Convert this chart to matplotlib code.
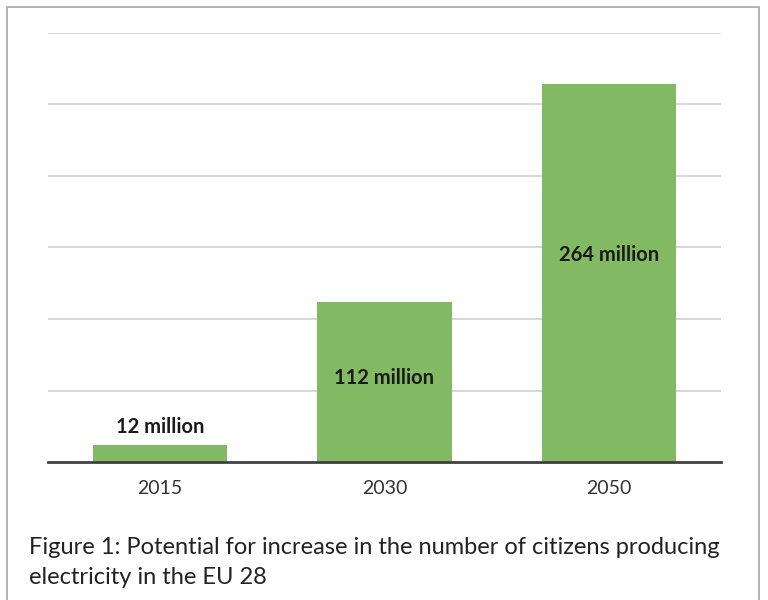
import matplotlib.pyplot as plt
from matplotlib.patches import Rectangle

plt.rcParams['font.family'] = ['Lato', 'DejaVu Sans']

years = ['2015', '2030', '2050']
citizens = [12, 112, 264]  # million
labels = ['12 million', '112 million', '264 million']
label_y = [24.5, 58.5, 145]  # where Excel put the data labels
grid_ticks = [50, 100, 150, 200, 250, 300]

fig = plt.figure(figsize=(7.68, 6.0), dpi=100)
fig.patches.append(Rectangle((7 / 768, -0.01), 752 / 768, 0.9983, transform=fig.transFigure,
                             fill=False, edgecolor='#a6a6a6', linewidth=1.2))

ax = fig.add_axes([48 / 768, (600 - 462) / 600, 673 / 768, 429 / 600])
x = range(len(years))
ax.bar(x, citizens, width=0.6, color='#82b963', zorder=2)

for xi, lab, ly in zip(x, labels, label_y):
    ax.text(xi, ly, lab, ha='center', va='center', fontsize=14.5, fontweight='bold', color='#1a1a1a', zorder=3)

ax.set_xlim(-0.5, 2.5)
ax.set_ylim(0, 300)
ax.set_yticks(grid_ticks)
ax.yaxis.grid(True, color='#d4d4d4', linewidth=1.3, zorder=0)
ax.tick_params(axis='y', left=False, labelleft=False)
ax.set_xticks(list(x))
ax.set_xticklabels(years, fontsize=14, color='#333333')
ax.tick_params(axis='x', length=0, pad=13)
for side in ['top', 'left', 'right']:
    ax.spines[side].set_visible(False)
ax.spines['bottom'].set_color('#404040')
ax.spines['bottom'].set_linewidth(2)

fig.text(29 / 768, 1 - 548 / 600, 'Figure 1: Potential for increase in the number of citizens producing',
         fontsize=17, color='#222222', va='center', ha='left')
fig.text(29 / 768, 1 - 578 / 600, 'electricity in the EU 28',
         fontsize=17, color='#222222', va='center', ha='left')

fig.savefig('out.png', dpi=100)
